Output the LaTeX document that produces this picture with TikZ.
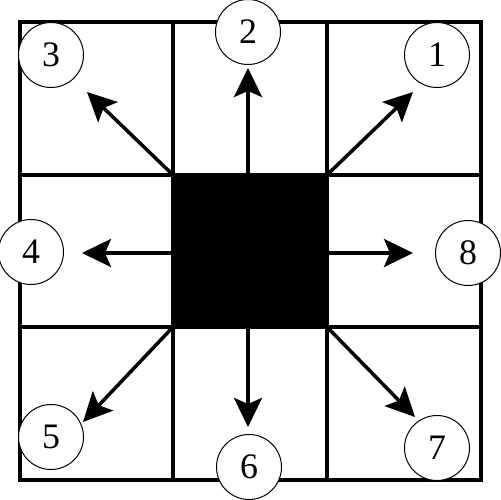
\documentclass[tikz,border=0pt]{standalone}
\usepackage{fontspec}
\setmainfont{Liberation Serif}
\usetikzlibrary{arrows.meta,positioning}

\begin{document}
\begin{tikzpicture}[x=1bp, y=-1bp,
    grid/.style={line width=3.5bp},
    dir/.style={circle, draw, line width=1bp, fill=white, minimum size=65bp, inner sep=0pt,
      font=\fontsize{36}{42}\selectfont},
    flow/.style={-{Stealth[length=29bp,width=28bp,inset=6bp]}, line width=3.5bp}]
    \useasboundingbox (0,0) rectangle (501,500);

    % cells of the neighbourhood
    \draw[grid] (20,22) rectangle (481,480);
    \draw[grid] (173,22) -- (173,480) (327,22) -- (327,480)
      (20,175) -- (481,175) (20,327) -- (481,327);
    \node[fill=black, minimum width=154bp, minimum height=152bp, inner sep=0pt] (core) at (250,251) {};

    % numbered directions
    \node[dir] (d1) at (437,55) {1};
    \node[dir] (d2) at (248,32) {2};
    \node[dir] (d3) at (51,55) {3};
    \node[dir] (d4) at (31,252) {4};
    \node[dir] (d5) at (51,437) {5};
    \node[dir] (d6) at (249,467) {6};
    \node[dir] (d7) at (437,448) {7};
    \node[dir] (d8) at (468,253) {8};

    % arrow tips
    \coordinate (t1) at (413,92);
    \coordinate (t2) at (248,68);
    \coordinate (t3) at (87,92);
    \coordinate (t4) at (82,253);
    \coordinate (t5) at (83,422);
    \coordinate (t6) at (248,427);
    \coordinate (t7) at (415,417);
    \coordinate (t8) at (413,253);

    \draw[flow] (core.north east) -- (t1);
    \draw[flow] (t2 |- core.north) -- (t2);
    \draw[flow] (core.north west) -- (t3);
    \draw[flow] (core.west |- t4) -- (t4);
    \draw[flow] (core.south west) -- (t5);
    \draw[flow] (t6 |- core.south) -- (t6);
    \draw[flow] (core.south east) -- (t7);
    \draw[flow] (core.east |- t8) -- (t8);
  \end{tikzpicture}
\end{document}
